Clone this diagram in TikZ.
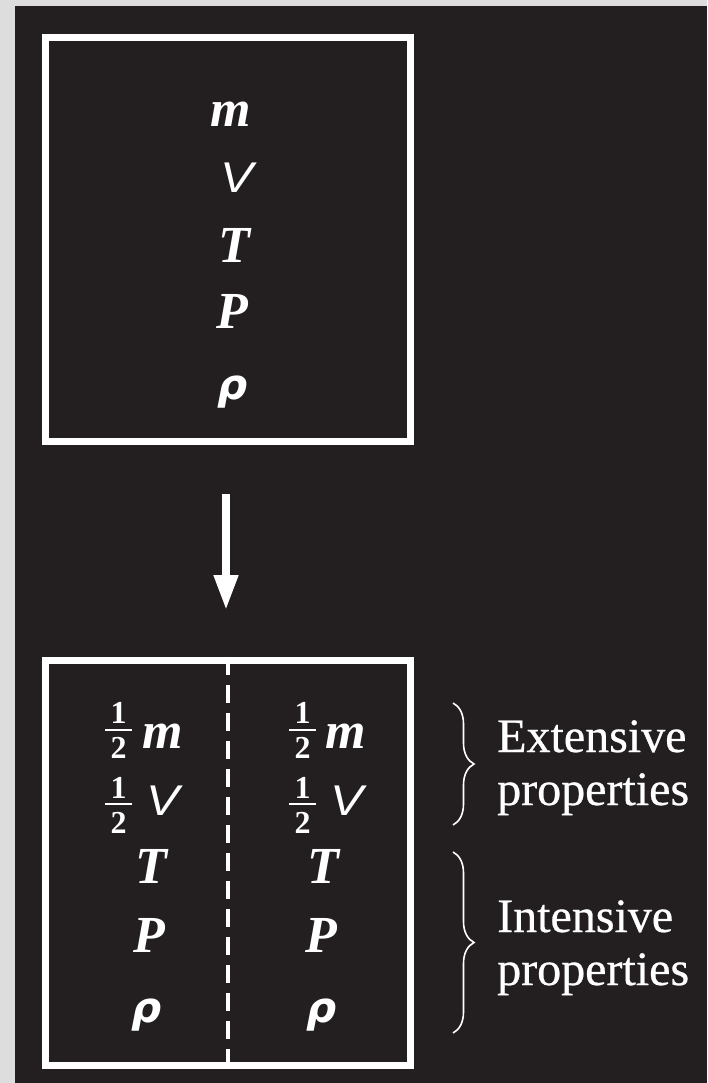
\documentclass[tikz,border=0pt]{standalone}
\usepackage{fontspec}
\setmainfont{Liberation Serif}
\newfontfamily\digitfamily{Liberation Serif}
\newfontfamily\vfamily{Liberation Sans}
\newfontfamily\rhofamily{DejaVu Sans}
\newfontfamily\labelfamily{Liberation Serif}[FakeBold=0.6]
\usetikzlibrary{arrows.meta,decorations.pathreplacing}
\definecolor{bg}{HTML}{231F20}
\definecolor{margin}{HTML}{DDDDDD}
\tikzset{
  x=1pt, y=-1pt,
  panel/.style={draw=white, line width=7pt, inner sep=0pt, minimum width=365pt},
  var/.style={text=white, inner sep=0pt, anchor=base, font=\rmfamily\fontsize{52}{52}\selectfont\bfseries\itshape},
  vsym/.style={text=white, inner sep=0pt, anchor=base, xscale=1.15, font=\vfamily\fontsize{43}{43}\selectfont\itshape},
  rhosym/.style={text=white, inner sep=0pt, anchor=base, font=\rhofamily\fontsize{42}{42}\selectfont\bfseries\itshape},
  digit/.style={text=white, inner sep=0pt, anchor=base, font=\digitfamily\fontsize{32}{32}\selectfont\bfseries\upshape},
  fracbar/.style={draw=white, line width=2.8pt},
  label/.style={text=white, inner sep=0pt, anchor=base west, align=left, font=\labelfamily\fontsize{48}{53}\selectfont},
  bracket/.style={draw=white, line width=1.6pt, decorate, decoration={brace, amplitude=21pt}},
}
\begin{document}
\begin{tikzpicture}
\useasboundingbox (0,0) rectangle (707,1083);
\fill[margin] (0,0) rectangle (707,1083);
\fill[bg] (15,6) rectangle (707,1083);

% top container
\node[panel, minimum height=403.5pt] (whole) at (228,239.25) {};
\node[var] (m0) at (231,127) {m};
\node[vsym] (v0) at (237,193) {V};
\node[var] (t0) at (234,262) {T};
\node[var] (p0) at (232,328) {P};
\node[rhosym] (r0) at (233,399) {ρ};

% arrow
\coordinate (as) at (226,494);
\coordinate (ae) at (226,610);
\draw[white, line width=7.5pt, -{Triangle[width=23pt,length=35pt]}] (as) -- (ae);

% bottom container
\node[panel, minimum height=405pt] (split) at (228,862.5) {};
\draw[white, line width=4pt, dash pattern=on 18pt off 10pt] (split.north) -- (split.south);

% left half
\node[digit] (l1a) at (118.5,723) {1};
\draw[fracbar] (105,730) coordinate (lb1s) -- (132,730) coordinate (lb1e);
\node[digit] (l2a) at (118.5,758) {2};
\node[var] (m1) at (163,748) {m};
\node[digit] (l1b) at (118.5,798) {1};
\draw[fracbar] (105,804) coordinate (lb2s) -- (132,804) coordinate (lb2e);
\node[digit] (l2b) at (118.5,833) {2};
\node[vsym] (v1) at (163,815) {V};
\node[var] (t1) at (151,883) {T};
\node[var] (p1) at (149,952) {P};
\node[rhosym] (r1) at (147,1022) {ρ};

% right half
\node[digit] (r1a) at (302.5,723) {1};
\draw[fracbar] (289,730) coordinate (rb1s) -- (316,730) coordinate (rb1e);
\node[digit] (r2a) at (302.5,758) {2};
\node[var] (m2) at (346,748) {m};
\node[digit] (r1b) at (302.5,798) {1};
\draw[fracbar] (289,804) coordinate (rb2s) -- (316,804) coordinate (rb2e);
\node[digit] (r2b) at (302.5,833) {2};
\node[vsym] (v2) at (347,815) {V};
\node[var] (t2) at (323,883) {T};
\node[var] (p2) at (321,952) {P};
\node[rhosym] (r2) at (322,1022) {ρ};

% braces and labels
\coordinate (b1t) at (453,703);
\coordinate (b1b) at (453,825);
\draw[bracket] (b1t) -- (b1b);
\node[label] (ext) at (497,805) {Extensive\\properties};
\coordinate (b2t) at (453,852);
\coordinate (b2b) at (453,1033);
\draw[bracket] (b2t) -- (b2b);
\node[label] (int) at (497,985) {Intensive\\properties};
\end{tikzpicture}
\end{document}
